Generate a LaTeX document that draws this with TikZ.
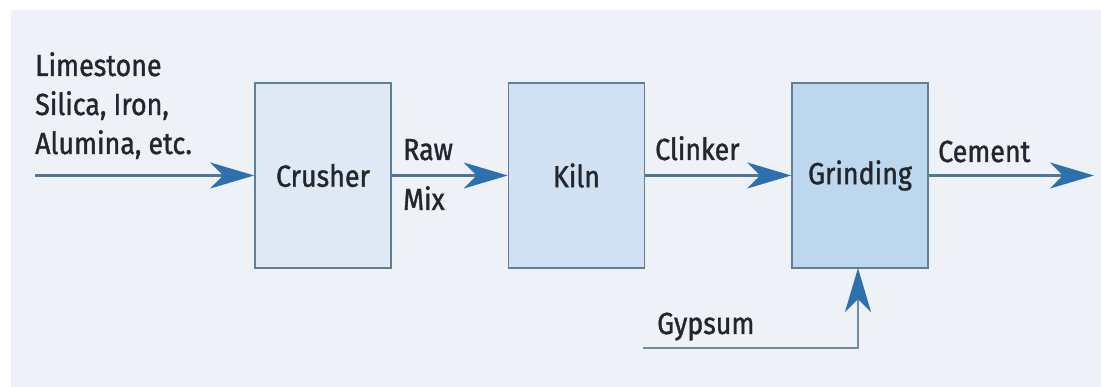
\documentclass[tikz,border=0pt]{standalone}
\usepackage{fontspec}
\setmainfont{Fira Sans}[FakeBold=1.2, FakeStretch=0.88]
\usetikzlibrary{arrows.meta}
\definecolor{bgc}{HTML}{EEF2F6}
\definecolor{edgec}{HTML}{5F7F99}
\definecolor{linec}{HTML}{4F7693}
\definecolor{headc}{HTML}{2D70AE}
\definecolor{txtc}{HTML}{23272B}
\definecolor{f1}{HTML}{DEE9F5}
\definecolor{f2}{HTML}{CFE1F3}
\definecolor{f3}{HTML}{BDD7EF}
\tikzset{
  procbox/.style={draw=edgec, line width=1.6pt, minimum width=136pt, minimum height=185pt, inner sep=0pt, font=\fontsize{30.5}{32}\selectfont, text=txtc},
  lbl/.style={font=\fontsize{30.5}{32}\selectfont, text=txtc, inner sep=0pt, anchor=base west},
  flow/.style={draw=linec, line width=2.6pt, -{Stealth[length=44pt, width=26pt, inset=13pt, fill=headc, color=headc]}},
}
\begin{document}
\begin{tikzpicture}[x=1pt,y=-1pt]
\useasboundingbox (0,0) rectangle (1101,387);
\fill[white] (0,0) rectangle (1101,387);
\fill[bgc] (11,10) rectangle (1101,387);
\node[procbox, fill=f1] (crush) at (323,175.5) {Crusher};
\node[procbox, fill=f2] (kiln) at (576.5,175.5) {Kiln};
\node[procbox, fill=f3] (grind) at (860,175.5) {Grinding};
\coordinate (in) at (35,175.5);
\coordinate (out) at (1094,175.5);
\coordinate (gs) at (643,348);
\coordinate (gt) at (858,268);
\node[lbl] (l1) at (35,76) {Limestone};
\node[lbl] (l2) at (35,115) {Silica, Iron,};
\node[lbl] (l3) at (35,154) {Alumina, etc.};
\node[lbl] (raw) at (403,160) {Raw};
\node[lbl] (mix) at (403,210) {Mix};
\node[lbl] (clk) at (655,160) {Clinker};
\node[lbl] (cem) at (938,162) {Cement};
\node[lbl] (gyp) at (657,334) {Gypsum};
\draw[flow] (in) -- (crush.west);
\draw[flow] (crush.east) -- (kiln.west);
\draw[flow] (kiln.east) -- (grind.west);
\draw[flow] (grind.east) -- (out);
\draw[flow, draw=edgec!90] (gs) -| (gt);
\end{tikzpicture}
\end{document}
